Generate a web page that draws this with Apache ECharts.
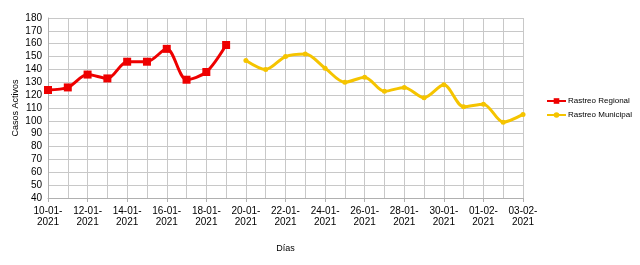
<!DOCTYPE html>
<html>
<head>
<meta charset="utf-8">
<script src="https://cdn.jsdelivr.net/npm/echarts@6/dist/echarts.min.js"></script>
<style>html,body{margin:0;padding:0;background:#fff}#c{width:640px;height:265px}</style>
</head>
<body>
<div id="c"></div>
<script>
const categories = ['10-01-2021','11-01-2021','12-01-2021','13-01-2021','14-01-2021','15-01-2021','16-01-2021','17-01-2021','18-01-2021','19-01-2021','20-01-2021','21-01-2021','22-01-2021','23-01-2021','24-01-2021','25-01-2021','26-01-2021','27-01-2021','28-01-2021','29-01-2021','30-01-2021','31-01-2021','01-02-2021','02-02-2021','03-02-2021'];
const regional = [124,126,136,133,146,146,156,132,138,159,null,null,null,null,null,null,null,null,null,null,null,null,null,null,null];
const municipal = [null,null,null,null,null,null,null,null,null,null,147,140,150,152,141,130,134,123,126,118,128,111,113,99,105];
const yMin = 40, yMax = 180, yStep = 10;

const chart = echarts.init(document.getElementById('c'), null, {renderer:'canvas'});
const font = 'Liberation Sans, Arial, sans-serif';
chart.setOption({
  animation:false,
  backgroundColor:'#fff',
  textStyle:{fontFamily:font},
  grid:{left:48,right:117,top:18,bottom:67,outerBoundsMode:'none',containLabel:false},
  legend:{
    orient:'vertical', left:546, top:97, itemGap:6, itemWidth:19, itemHeight:7,
    padding:0, width:94,
    textStyle:{fontSize:8,color:'#000',fontFamily:font,padding:[0,0,0,-3]},
    data:['Rastreo Regional','Rastreo Municipal']
  },
  xAxis:{
    type:'category', data:categories, boundaryGap:false,
    name:'Días', nameLocation:'middle', nameGap:46, nameMoveOverlap:false,
    nameTextStyle:{fontSize:9,color:'#000'},
    axisLine:{lineStyle:{color:'#b0b0b0'}},
    axisTick:{show:true,interval:1,length:4,lineStyle:{color:'#b0b0b0'}},
    axisLabel:{interval:1,fontSize:10,color:'#000',lineHeight:11,
      formatter:v=>v.slice(0,6)+'\n'+v.slice(6)},
    splitLine:{show:true,interval:0,lineStyle:{color:'#c8c8c8',width:1}}
  },
  yAxis:{
    type:'value', min:yMin, max:yMax, interval:yStep,
    name:'Casos Activos', nameLocation:'middle', nameGap:28, nameRotate:90,
    nameMoveOverlap:false,
    nameTextStyle:{fontSize:9,color:'#000'},
    axisLine:{show:true,lineStyle:{color:'#b0b0b0'}},
    axisTick:{show:false},
    axisLabel:{fontSize:10,color:'#000',margin:6},
    splitLine:{show:true,lineStyle:{color:'#c8c8c8',width:1}}
  },
  series:[
    {name:'Rastreo Regional',type:'line',data:regional,smooth:0.3,
     symbol:'rect',symbolSize:8,showAllSymbol:true,
     itemStyle:{color:'#ee0000'},lineStyle:{color:'#ee0000',width:3}},
    {name:'Rastreo Municipal',type:'line',data:municipal,smooth:0.3,
     symbol:'circle',symbolSize:5,showAllSymbol:true,
     itemStyle:{color:'#f5c400'},lineStyle:{color:'#f5c400',width:3}}
  ]
});
</script>
</body>
</html>
